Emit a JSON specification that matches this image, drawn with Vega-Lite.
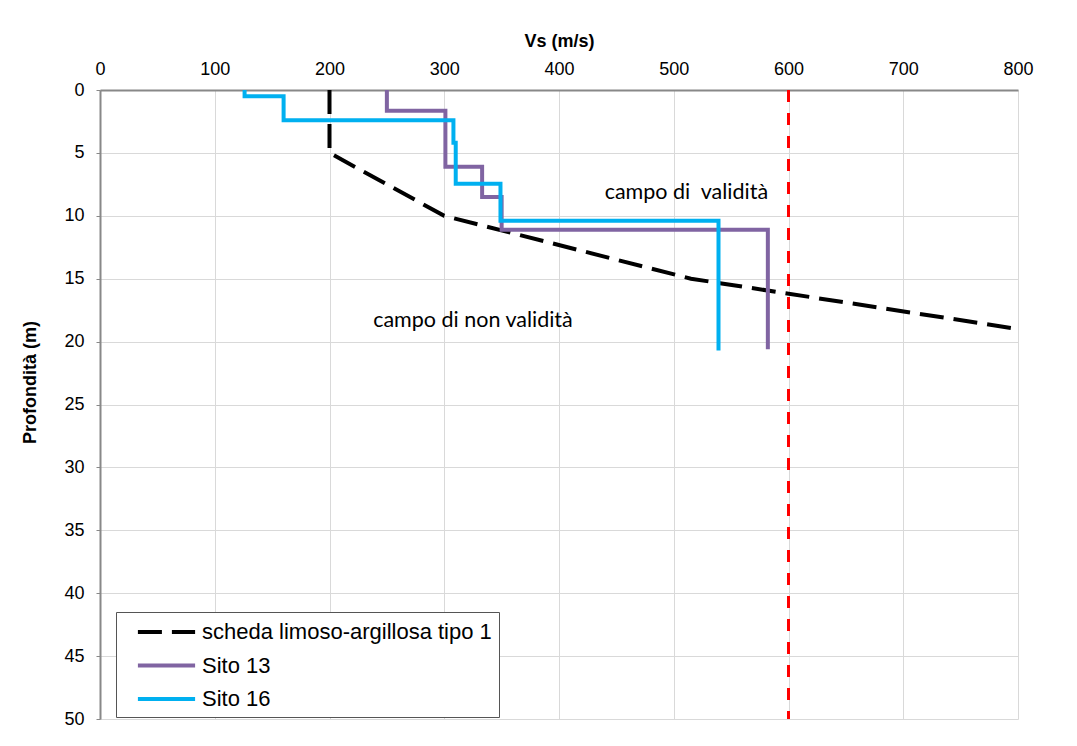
{
  "$schema": "https://vega.github.io/schema/vega-lite/v6.json",
  "width": 918,
  "height": 629,
  "autosize": {"type": "none"},
  "padding": {"left": 100, "top": 90, "right": 59, "bottom": 27},
  "background": "white",
  "config": {
    "view": {"stroke": null},
    "font": "Liberation Sans"
  },
  "datasets": {
    "lines": [
      {"series": "scheda limoso-argillosa tipo 1", "ord": 1, "vs": 200, "depth": 0},
      {"series": "scheda limoso-argillosa tipo 1", "ord": 2, "vs": 200, "depth": 5},
      {"series": "scheda limoso-argillosa tipo 1", "ord": 3, "vs": 300, "depth": 10},
      {"series": "scheda limoso-argillosa tipo 1", "ord": 4, "vs": 515, "depth": 15},
      {"series": "scheda limoso-argillosa tipo 1", "ord": 5, "vs": 800, "depth": 19},
      {"series": "Sito 13", "ord": 1, "vs": 250, "depth": 0},
      {"series": "Sito 13", "ord": 2, "vs": 250, "depth": 1.65},
      {"series": "Sito 13", "ord": 3, "vs": 301, "depth": 1.65},
      {"series": "Sito 13", "ord": 4, "vs": 301, "depth": 6.1},
      {"series": "Sito 13", "ord": 5, "vs": 333, "depth": 6.1},
      {"series": "Sito 13", "ord": 6, "vs": 333, "depth": 8.5},
      {"series": "Sito 13", "ord": 7, "vs": 350, "depth": 8.5},
      {"series": "Sito 13", "ord": 8, "vs": 350, "depth": 11.1},
      {"series": "Sito 13", "ord": 9, "vs": 582, "depth": 11.1},
      {"series": "Sito 13", "ord": 10, "vs": 582, "depth": 20.6},
      {"series": "Sito 16", "ord": 1, "vs": 126, "depth": 0},
      {"series": "Sito 16", "ord": 2, "vs": 126, "depth": 0.5},
      {"series": "Sito 16", "ord": 3, "vs": 160, "depth": 0.5},
      {"series": "Sito 16", "ord": 4, "vs": 160, "depth": 2.4},
      {"series": "Sito 16", "ord": 5, "vs": 308, "depth": 2.4},
      {"series": "Sito 16", "ord": 6, "vs": 308, "depth": 4.2},
      {"series": "Sito 16", "ord": 7, "vs": 310, "depth": 4.2},
      {"series": "Sito 16", "ord": 8, "vs": 310, "depth": 7.45},
      {"series": "Sito 16", "ord": 9, "vs": 349, "depth": 7.45},
      {"series": "Sito 16", "ord": 10, "vs": 349, "depth": 10.4},
      {"series": "Sito 16", "ord": 11, "vs": 539, "depth": 10.4},
      {"series": "Sito 16", "ord": 12, "vs": 539, "depth": 20.7}
    ],
    "limit": [
      {"ord": 1, "vs": 600, "depth": 0},
      {"ord": 2, "vs": 600, "depth": 50}
    ],
    "labels": [
      {"text": "campo di\u00a0 validità", "vs": 511, "depth": 8.2},
      {"text": "campo di non validità", "vs": 325, "depth": 18.4}
    ]
  },
  "layer": [
    {
      "data": {"name": "limit"},
      "mark": {"type": "line", "color": "#ff0000", "strokeWidth": 3, "strokeDash": [12, 11]},
      "encoding": {
        "x": {"field": "vs", "type": "quantitative", "scale": {"domain": [0, 800], "nice": false},
          "axis": {
            "orient": "top", "title": "Vs (m/s)", "values": [0, 100, 200, 300, 400, 500, 600, 700, 800],
            "titleFontSize": 18, "titleFontWeight": "bold", "titleColor": "#000", "titlePadding": 10,
            "labelFontSize": 18, "labelColor": "#000", "labelFontWeight": "normal", "labelPadding": 12,
            "ticks": false, "domainColor": "#888888", "domainWidth": 2,
            "gridColor": "#d9d9d9", "gridWidth": 1, "labelFlush": false
          }},
        "y": {"field": "depth", "type": "quantitative", "scale": {"domain": [0, 50], "reverse": true, "nice": false},
          "axis": {
            "title": "Profondità (m)", "values": [0, 5, 10, 15, 20, 25, 30, 35, 40, 45, 50],
            "titleFontSize": 18, "titleFontWeight": "bold", "titleColor": "#000", "titlePadding": 24, "titleY": 292,
            "labelFontSize": 18, "labelColor": "#000", "labelPadding": 12,
            "tickSize": 4, "tickColor": "#888888", "domainColor": "#888888", "domainWidth": 2,
            "gridColor": "#d9d9d9", "gridWidth": 1, "labelFlush": false
          }},
        "order": {"field": "ord", "type": "quantitative"}
      }
    },
    {
      "data": {"name": "lines"},
      "mark": {"type": "line", "strokeWidth": 4, "strokeCap": "butt", "strokeJoin": "miter"},
      "encoding": {
        "x": {"field": "vs", "type": "quantitative"},
        "y": {"field": "depth", "type": "quantitative"},
        "order": {"field": "ord", "type": "quantitative"},
        "color": {
          "field": "series", "type": "nominal",
          "scale": {"domain": ["scheda limoso-argillosa tipo 1", "Sito 13", "Sito 16"], "range": ["#000000", "#8064a2", "#00b0f0"]},
          "legend": {
            "title": null, "orient": "none", "legendX": 16, "legendY": 522,
            "symbolType": "M-2.6,0L2.6,0", "symbolSize": 484, "symbolStrokeWidth": 4,
            "labelFontSize": 22, "labelColor": "#000", "labelLimit": 600, "labelOffset": 22.5,
            "labelExpr": "datum.label + '\u00a0\u00a0\u00a0'",
            "rowPadding": 9.5, "padding": 7, "symbolOffset": 30.5,
            "strokeColor": "#555555", "fillColor": "white"
          }
        },
        "strokeDash": {
          "field": "series", "type": "nominal",
          "scale": {"domain": ["scheda limoso-argillosa tipo 1", "Sito 13", "Sito 16"], "range": [[24, 10], [1, 0], [1, 0]]},
          "legend": null
        }
      }
    },
    {
      "data": {"name": "labels"},
      "mark": {"type": "text", "font": "Lato", "fontSize": 21.5, "color": "#000", "align": "center", "baseline": "middle"},
      "encoding": {
        "x": {"field": "vs", "type": "quantitative"},
        "y": {"field": "depth", "type": "quantitative"},
        "text": {"field": "text"}
      }
    }
  ]
}
